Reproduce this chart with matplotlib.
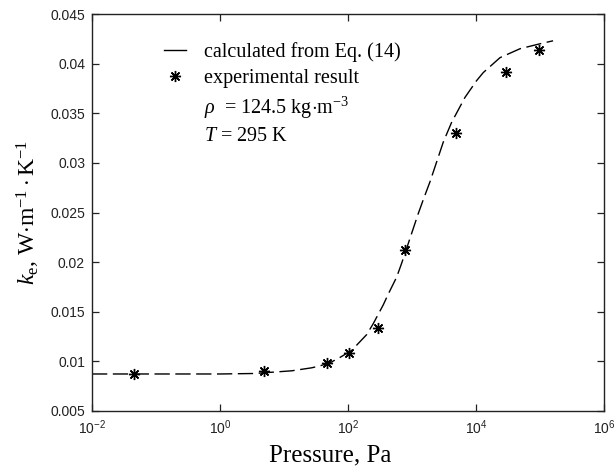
"""
Effective thermal conductivity vs pressure
"""

import matplotlib
matplotlib.use("Agg")
import matplotlib.pyplot as plt
from matplotlib.lines import Line2D
import numpy as np

plt.rcParams['mathtext.fontset'] = 'custom'
plt.rcParams['mathtext.rm'] = 'Liberation Serif'
plt.rcParams['mathtext.it'] = 'Liberation Serif:italic'

# calculated curve, Eq. (14)
calc_p = [0.01, 1.0, 3.5, 13.2, 27, 36.5, 52, 75, 114, 196, 248, 356, 427, 577,
          690, 826, 1048, 1254, 1502, 1911, 2287, 3084, 4170, 6730, 10260,
          13000, 23700, 48700, 100000, 160000]
calc_k = [0.00873, 0.00873, 0.00878, 0.00905, 0.00935, 0.00955, 0.00985, 0.0104,
          0.0111, 0.0127, 0.0138, 0.0157, 0.0168, 0.0185, 0.0199, 0.0214, 0.0234,
          0.0249, 0.0263, 0.0281, 0.0296, 0.0321, 0.0341, 0.0366, 0.0383,
          0.0391, 0.0406, 0.0415, 0.0420, 0.0423]

# experimental points
exp_p = [0.045, 4.9, 47, 105, 290, 780, 4900, 29500, 97000]
exp_k = [0.00877, 0.00905, 0.00982, 0.0108, 0.01334, 0.02118, 0.03306, 0.03918, 0.04137]

x_ticks = [1e-2, 1e0, 1e2, 1e4, 1e6]
x_tick_labels = [r'$\mathregular{10^{-2}}$', r'$\mathregular{10^{0}}$', r'$\mathregular{10^{2}}$',
                 r'$\mathregular{10^{4}}$', r'$\mathregular{10^{6}}$']
y_ticks = [0.005, 0.01, 0.015, 0.02, 0.025, 0.03, 0.035, 0.04, 0.045]
y_tick_labels = ['0.005', '0.01', '0.015', '0.02', '0.025', '0.03', '0.035', '0.04', '0.045']

fig = plt.figure(figsize=(6.14, 4.75), dpi=100)
ax = fig.add_axes([92/614, 1 - 411/475, (604 - 92)/614, (411 - 14)/475])

ax.plot(calc_p, calc_k, color='black', lw=1.0, dashes=(11, 4))
# asterisk markers (8 spokes)
ax.plot(exp_p, exp_k, ls='none', marker=(8, 2, 0), color='black', markersize=8, mew=1.0)

ax.set_xscale('log')
ax.set_xlim(1e-2, 1e6)
ax.set_ylim(0.005, 0.045)
ax.set_xticks(x_ticks)
ax.set_xticklabels(x_tick_labels)
ax.xaxis.set_minor_locator(matplotlib.ticker.NullLocator())
ax.set_yticks(y_ticks)
ax.set_yticklabels(y_tick_labels)

ax.tick_params(direction='in', top=True, right=True, length=5, width=0.9,
               labelsize=10, colors='#222222', pad=5)
for lab in ax.get_xticklabels() + ax.get_yticklabels():
    lab.set_fontfamily('Liberation Sans')
for sp in ax.spines.values():
    sp.set_linewidth(1.0)
    sp.set_color('#222222')

ax.set_xlabel('Pressure, Pa', fontfamily='Liberation Serif', fontsize=18)
ax.xaxis.set_label_coords((330 - 92) / 512, -0.085)
ax.set_ylabel(r'$k_{\mathrm{e}}$, W$\cdot$m$^{-1}\cdot$K$^{-1}$',
              fontfamily='Liberation Serif', fontsize=17)
ax.yaxis.set_label_coords(-0.098, 0.5)

handles = [Line2D([], [], color='black', lw=1.0),
           Line2D([], [], ls='none', marker=(8, 2, 0), color='black', markersize=8, mew=1.0),
           Line2D([], [], ls='none'),
           Line2D([], [], ls='none')]
labels = ['calculated from Eq. (14)', 'experimental result',
          r'$\rho$  = 124.5 kg$\cdot$m$^{-3}$', r'$T$ = 295 K']
leg = ax.legend(handles, labels, loc='upper left', bbox_to_anchor=(0.105, 0.975),
                frameon=False, handlelength=1.1, handletextpad=0.9,
                labelspacing=0.33, prop={'family': 'Liberation Serif', 'size': 14.5})

plt.savefig('out.png', dpi=100)
plt.close()
